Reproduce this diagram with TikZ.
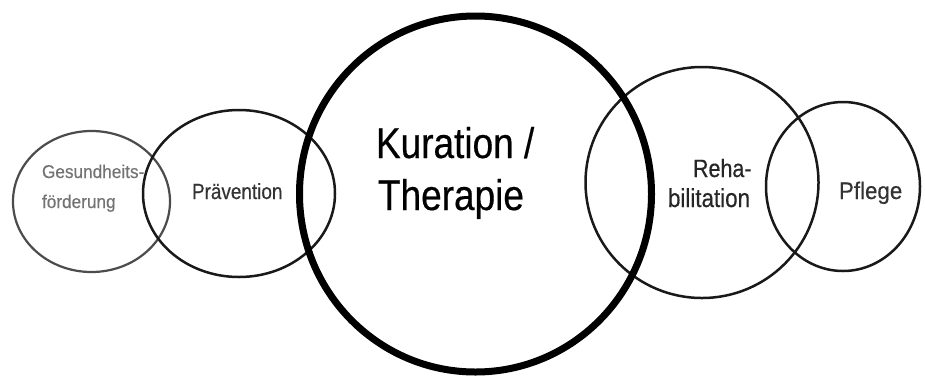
\documentclass[tikz,border=0pt]{standalone}
\usepackage{fontspec}
\newfontfamily\narrowsans[FakeStretch=0.86,FakeBold=0.4]{Liberation Sans}
\newfontfamily\mildsans[FakeStretch=0.93,FakeBold=0.3]{Liberation Sans}
\begin{document}
\begin{tikzpicture}[x=1pt,y=-1pt,
  ring/.style={draw=black!90,line width=2.5pt},
  lightring/.style={draw=black!70,line width=2.2pt},
  bigring/.style={draw=black,line width=7pt},
  lbl/.style={anchor=base west,inner sep=0pt,outer sep=0pt}]
\useasboundingbox[fill=white] (0,0) rectangle (925,376);
% circles
\draw[lightring] (91.5,201.5) ellipse [x radius=78.5pt, y radius=70.5pt];
\draw[ring] (239,193.5) ellipse [x radius=96pt, y radius=83.5pt];
\draw[ring] (702,182.5) ellipse [x radius=116.5pt, y radius=115.5pt];
\draw[ring] (843,186.5) ellipse [x radius=77pt, y radius=84.5pt];
\draw[bigring] (475.5,194) ellipse [x radius=176pt, y radius=178pt];
% labels
\node[lbl,text=black!55] (ges1) at (42,178) {\mildsans\fontsize{18.5}{22}\selectfont Gesundheits-};
\node[lbl,text=black!55] (ges2) at (42,208) {\mildsans\fontsize{18.5}{22}\selectfont förderung};
\node[lbl,text=black!80] (prae) at (192,199) {\narrowsans\fontsize{22}{26}\selectfont Prävention};
\node[lbl,text=black] (kur1) at (376,158) {\narrowsans\fontsize{43}{52}\selectfont Kuration /};
\node[lbl,text=black] (kur2) at (378,210) {\narrowsans\fontsize{43}{52}\selectfont Therapie};
\node[lbl,text=black!85] (reh1) at (693,177) {\narrowsans\fontsize{25}{30}\selectfont Reha-};
\node[lbl,text=black!85] (reh2) at (668,207) {\narrowsans\fontsize{26}{30}\selectfont bilitation};
\node[lbl,text=black!80] (pfl) at (839,199) {\mildsans\fontsize{24}{28}\selectfont Pflege};
\end{tikzpicture}
\end{document}
